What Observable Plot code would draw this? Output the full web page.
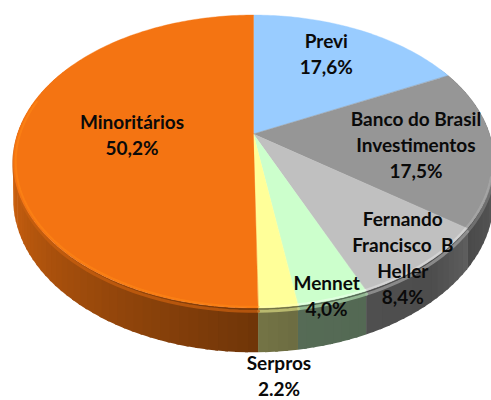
<!DOCTYPE html>
<html><head><meta charset="utf-8">
<style>html,body{margin:0;padding:0;background:#fff;overflow:hidden}svg{display:block}</style>
<script src="https://cdn.jsdelivr.net/npm/d3@7"></script>
<script src="https://cdn.jsdelivr.net/npm/@observablehq/plot@0.6"></script>
</head><body><div id="chart"></div>
<script>
const names = ["Previ","Banco do Brasil\nInvestimentos","Fernando\nFrancisco  B\nHeller","Mennet","Serpros","Minoritários"];
const shares = [17.6,17.5,8.4,4.0,2.2,50.2];
const shareLabels = ["17,6%","17,5%","8,4%","4,0%","2.2%","50,2%"];
const colors = ["#99ccff","#969696","#c0c0c0","#ccffcc","#ffff99","#f47412"];
const labelRadius = [0.732,0.681,0.919,0.966,1.29,0.518];
const labelTurn = [-3.7,0.2,2.2,0.8,1.3,1.4];

// view: perspective projection of a disc seen from above
const W=491,H=400,cx=253.5,cy=134,A=236,B=141.3,k=0.188,D=36;
const rad=d=>d*Math.PI/180;
const proj=(t,r=1,drop=0)=>{const u=r*Math.sin(rad(t)),v=r*Math.cos(rad(t)),q=1+k*v;
  return {x:cx+A*u/q,y:cy-B*v/q+drop/q};};
const shadeAt=d3.scaleLinear().domain([60,125,140,170,180,225,250,275,300]).range([.72,.5,.4,.42,.46,.68,.8,.95,1]).clamp(true);
const scale=(c,f)=>{const r=d3.rgb(c);return d3.rgb(r.r*f,r.g*f,r.b*f).formatHex();};

const total=d3.sum(shares);
let acc=0;
const slices=shares.map((s,i)=>{const a=acc/total*360;acc+=s;const b=acc/total*360;return {i,a,b,mid:(a+b)/2};});
const steps=(a,b,n)=>d3.range(n+1).map(j=>a+(b-a)*j/n);

const faces=[],bands=[],rim=[],rim2=[];
for(const s of slices){
  for(const t of steps(s.a,s.b,Math.ceil(s.b-s.a))){const p=proj(t);faces.push({id:s.i,x1:cx,y1:cy,x2:p.x,y2:p.y,fill:colors[s.i]});}
  const from=Math.max(s.a,60),to=Math.min(s.b,300);
  if(to>from){
    const ts=steps(from,to,Math.ceil((to-from)/2));
    for(let j=0;j<ts.length-1;j++){
      const fill=scale(colors[s.i],shadeAt((ts[j]+ts[j+1])/2)),id=s.i+"-"+j;
      // each band reaches a little under its neighbour, so no seam shows
      const end=j<ts.length-2?ts[j+1]+0.6:ts[j+1];
      for(const t of [ts[j],end]){const p=proj(t),q=proj(t,1,D);bands.push({id,x1:p.x,y1:p.y,x2:q.x,y2:q.y,fill});}
    }
    for(const t of ts){ if(t<105||t>285) continue;
      const p=proj(t,0.992);rim.push({id:s.i,x:p.x,y:p.y,c:d3.rgb(colors[s.i]).brighter(.45).formatHex()});
      const q=proj(t,1,2.2);rim2.push({id:s.i,x:q.x,y:q.y,c:scale(colors[s.i],.82)});
    }
  }
}
const labels=slices.map(s=>{const p=proj(s.mid+labelTurn[s.i],labelRadius[s.i]);
  return {x:p.x,y:p.y,text:names[s.i]+"\n"+shareLabels[s.i]};});

const chart=Plot.plot({
  width:W,height:H,margin:0,
  x:{domain:[0,W],range:[0,W],axis:null},
  y:{domain:[0,H],range:[0,H],axis:null},
  marks:[
    Plot.area(bands,{x1:"x1",y1:"y1",x2:"x2",y2:"y2",z:"id",fill:"fill"}),
    Plot.line(rim2,{x:"x",y:"y",z:"id",stroke:"c",strokeWidth:3,strokeOpacity:.75}),
    Plot.area(faces,{x1:"x1",y1:"y1",x2:"x2",y2:"y2",z:"id",fill:"fill",stroke:"fill",strokeWidth:.4}),
    Plot.line(rim,{x:"x",y:"y",z:"id",stroke:"c",strokeWidth:2,strokeOpacity:.55}),
    Plot.text(labels,{x:"x",y:"y",text:"text",fontFamily:"Lato",fontWeight:"bold",fontSize:19,lineHeight:1.37,fill:"#0a0a0a",textAnchor:"middle",lineAnchor:"middle"})
  ]
});
document.getElementById("chart").append(chart);
</script></body></html>
